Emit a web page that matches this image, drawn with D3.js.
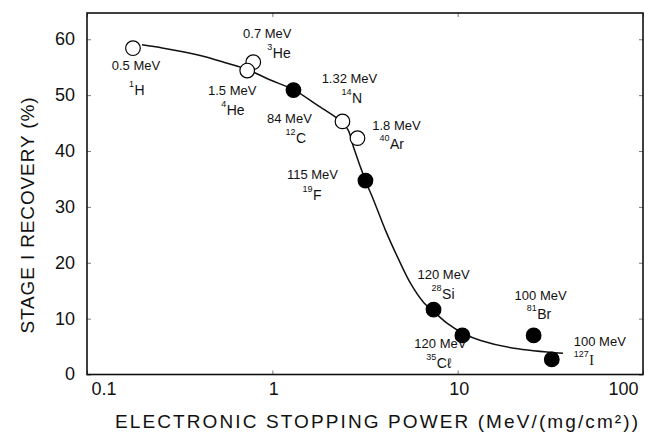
<!DOCTYPE html>
<html>
<head>
<meta charset="utf-8">
<script src="https://cdn.jsdelivr.net/npm/d3@7"></script>
<style>
  body { margin: 0; background: #fff; }
  svg text { font-family: "Liberation Sans", Arial, sans-serif; fill: #111; }
</style>
</head>
<body>
<div id="chart"></div>
<script>
// Data
const mass = ["1", "3", "4", "12", "14", "40", "19", "28", "35", "81", "127"];
const element = ["H", "He", "He", "C", "N", "Ar", "F", "Si", "Cℓ", "Br", "I"];
const energy = ["0.5 MeV", "0.7 MeV", "1.5 MeV", "84 MeV", "1.32 MeV", "1.8 MeV", "115 MeV", "120 MeV", "120 MeV", "100 MeV", "100 MeV"];
const stoppingPower = [0.177, 0.789, 0.732, 1.30, 2.39, 2.88, 3.18, 7.41, 10.6, 25.7, 32.2];
const recovery = [58.4, 55.9, 54.4, 50.9, 45.3, 42.3, 34.7, 11.6, 7.0, 7.0, 2.7];
const filled = [false, false, false, true, false, false, true, true, true, true, true];

// Hand-drawn trend curve
const curveX = [0.198, 0.258, 0.408, 0.571, 0.732, 0.976, 1.30, 1.75, 2.39, 2.57, 2.74, 3.18, 3.52, 4.08, 4.74, 5.57, 6.55, 7.41, 8.83, 10.8, 13.3, 20.1, 37.0];
const curveY = [59.0, 58.4, 57.1, 55.7, 54.6, 52.7, 51.0, 48.2, 45.1, 43.7, 40.7, 34.7, 31.2, 25.8, 21.0, 16.3, 12.9, 11.3, 9.1, 7.3, 6.1, 4.7, 3.8];

const xTicks = [0.1, 1, 10, 100];
const yTicks = [0, 10, 20, 30, 40, 50, 60];

// label placement relative to each point (px): energy centre, isotope start
const labelOffsets = [
  {ex: 3, ey: 22, ix: -4, iy: 47},
  {ex: 14, ey: -24, ix: 14, iy: -4},
  {ex: -15, ey: 24, ix: -26, iy: 44},
  {ex: -4, ey: 33, ix: -8, iy: 53},
  {ex: 7, ey: -38, ix: -1, iy: -18},
  {ex: 39, ey: -8, ix: 22, iy: 11},
  {ex: -53, ey: -2, ix: -63, iy: 19},
  {ex: 10, ey: -31, ix: -2, iy: -11},
  {ex: -22, ey: 13, ix: -36, iy: 33},
  {ex: 7, ey: -35, ix: -7, iy: -16},
  {ex: 48, ey: -13, ix: 22, iy: 6}
];

const W = 651, H = 441;
const margin = {top: 13, right: 8, bottom: 66.5, left: 87};
const width = W - margin.left - margin.right,
    height = H - margin.top - margin.bottom;

const svg = d3.select("#chart")
  .append("svg")
    .attr("width", W)
    .attr("height", H)
  .append("g")
    .attr("transform", `translate(${margin.left},${margin.top})`);

const x = d3.scaleLog().domain([0.1, 100]).range([0, width]);
const y = d3.scaleLinear().domain([0, 64.7]).range([height, 0]);

// Axes with inward ticks
const xAxis = svg.append("g")
  .attr("transform", `translate(0,${height})`)
  .call(d3.axisBottom(x).tickValues(xTicks).tickFormat(d3.format("~g")).tickSize(-4).tickSizeOuter(0).tickPadding(8));
xAxis.selectAll("text")
  .style("font-size", "18px")
  .attr("text-anchor", (d, i) => i === 0 ? "start" : i === xTicks.length - 1 ? "end" : "middle")
  .attr("dx", (d, i) => i === 0 ? 4 : i === xTicks.length - 1 ? -5 : 1);

const yAxis = svg.append("g")
  .call(d3.axisLeft(y).tickValues(yTicks).tickSize(-4).tickSizeOuter(0).tickPadding(12));
yAxis.selectAll("text").style("font-size", "18px").attr("dy", "0.3em");

svg.append("g")
  .call(d3.axisTop(x).tickValues(xTicks).tickFormat("").tickSize(-4).tickSizeOuter(0));
svg.append("g")
  .attr("transform", `translate(${width},0)`)
  .call(d3.axisRight(y).tickValues(yTicks).tickFormat("").tickSize(-4).tickSizeOuter(0));

svg.selectAll(".domain").remove();
svg.selectAll(".tick line").attr("stroke", "#555").attr("stroke-width", 0.8);

svg.append("rect")
  .attr("width", width)
  .attr("height", height)
  .attr("fill", "none")
  .attr("stroke", "#111")
  .attr("stroke-width", 1.6);

// Trend curve
const curve = curveX.map((v, i) => [v, curveY[i]]);
svg.append("path")
  .datum(curve)
  .attr("fill", "none")
  .attr("stroke", "#111")
  .attr("stroke-width", 1.5)
  .attr("d", d3.line().x(d => x(d[0])).y(d => y(d[1])).curve(d3.curveCatmullRom.alpha(0.5)));

// Points
const points = stoppingPower.map((v, i) => ({
  x: v, y: recovery[i], filled: filled[i], energy: energy[i], mass: mass[i], element: element[i], off: labelOffsets[i]
}));

svg.selectAll("circle.pt")
  .data(points)
  .join("circle")
    .attr("class", "pt")
    .attr("cx", d => x(d.x))
    .attr("cy", d => y(d.y))
    .attr("r", 7.3)
    .attr("fill", d => d.filled ? "#000" : "#fff")
    .attr("stroke", "#000")
    .attr("stroke-width", 1.2);

// Energy labels
svg.selectAll("text.energy")
  .data(points)
  .join("text")
    .attr("class", "energy")
    .attr("x", d => x(d.x) + d.off.ex)
    .attr("y", d => y(d.y) + d.off.ey)
    .attr("text-anchor", "middle")
    .style("font-size", "13px")
    .text(d => d.energy);

// Isotope labels with superscript mass number
const iso = svg.selectAll("text.iso")
  .data(points)
  .join("text")
    .attr("class", "iso")
    .attr("x", d => x(d.x) + d.off.ix)
    .attr("y", d => y(d.y) + d.off.iy);
iso.append("tspan")
  .attr("dy", -8)
  .style("font-size", "9px")
  .text(d => d.mass);
iso.append("tspan")
  .attr("dy", 8)
  .attr("dx", 0.5)
  .style("font-size", "14px")
  .style("font-family", d => d.element === "I" ? "'Liberation Serif', serif" : null)
  .text(d => d.element);

// Axis titles
svg.append("text")
  .attr("x", 28)
  .attr("y", height + 53)
  .attr("textLength", 523)
  .attr("lengthAdjust", "spacing")
  .style("font-size", "19px")
  .text("ELECTRONIC STOPPING POWER (MeV/(mg/cm²))");

svg.append("text")
  .attr("transform", `translate(${-53},${height - 41}) rotate(-90)`)
  .attr("textLength", 236)
  .attr("lengthAdjust", "spacing")
  .style("font-size", "19px")
  .text("STAGE I RECOVERY (%)");
</script>
</body>
</html>
